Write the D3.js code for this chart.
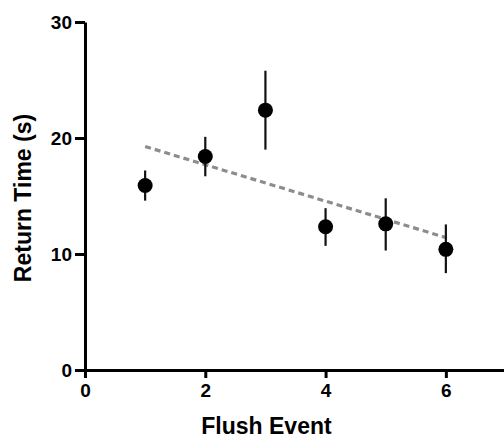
<!DOCTYPE html>
<html>
<head>
<meta charset="utf-8">
<script src="https://cdn.jsdelivr.net/npm/d3@7"></script>
<style>
  html, body { margin: 0; padding: 0; background: #fff; }
  svg { display: block; }
  text { font-family: "Liberation Sans", Arial, sans-serif; font-weight: bold; fill: #000; }
</style>
</head>
<body>
<svg id="chart" width="504" height="440"></svg>
<script>
// Mean return time per flush event, with error bar extents
const flushEvents = [1, 2, 3, 4, 5, 6];
const meanTimes   = [15.9, 18.4, 22.4, 12.35, 12.6, 10.4];
const errUpper    = [17.2, 20.1, 25.8, 13.95, 14.8, 12.55];
const errLower    = [14.6, 16.7, 19.0, 10.7, 10.3, 8.35];

const xTicks = [0, 2, 4, 6];
const yTicks = [0, 10, 20, 30];

const svg = d3.select("#chart");

const x = d3.scaleLinear().domain([0, 7]).range([85, 506]);
const y = d3.scaleLinear().domain([0, 30]).range([370, 22]);

// Axes
const xAxis = svg.append("g")
  .attr("transform", `translate(0,${y(0)})`)
  .call(d3.axisBottom(x).tickValues(xTicks).tickFormat(d3.format("d"))
    .tickSize(8).tickPadding(6).tickSizeOuter(0));
const yAxis = svg.append("g")
  .attr("transform", `translate(${x(0)},0)`)
  .call(d3.axisLeft(y).tickValues(yTicks).tickFormat(d3.format("d"))
    .tickSize(10).tickPadding(3).tickSizeOuter(0));

[xAxis, yAxis].forEach(g => {
  g.select(".domain").attr("stroke", "#000").attr("stroke-width", 3);
  g.selectAll(".tick line").attr("stroke", "#000").attr("stroke-width", 3);
  g.selectAll(".tick text")
    .attr("font-size", 19)
    .attr("font-weight", "bold")
    .attr("font-family", "'Liberation Sans', Arial, sans-serif")
    .attr("fill", "#000");
});
yAxis.selectAll(".tick text").attr("dy", "0.36em");

// Axis titles
svg.append("text")
  .attr("x", (x(0) + 504) / 2 - 28)
  .attr("y", 434)
  .attr("text-anchor", "middle")
  .attr("font-size", 23)
  .text("Flush Event");

svg.append("text")
  .attr("transform", `translate(31,${(y(0) + y(30)) / 2 + 2}) rotate(-90)`)
  .attr("text-anchor", "middle")
  .attr("font-size", 23)
  .text("Return Time (s)");

// Least-squares trend through the means
const n = flushEvents.length;
const mx = d3.mean(flushEvents), my = d3.mean(meanTimes);
const slope = d3.sum(flushEvents.map((v, i) => (v - mx) * (meanTimes[i] - my))) /
              d3.sum(flushEvents.map(v => (v - mx) ** 2));
const intercept = my - slope * mx;
const xFirst = flushEvents[0], xLast = flushEvents[n - 1];

svg.append("line")
  .attr("x1", x(xFirst)).attr("y1", y(intercept + slope * xFirst))
  .attr("x2", x(xLast)).attr("y2", y(intercept + slope * xLast))
  .attr("stroke", "#8c8c8c")
  .attr("stroke-width", 3.2)
  .attr("stroke-dasharray", "6,4");

// Error bars
svg.append("g").selectAll("line")
  .data(flushEvents)
  .join("line")
  .attr("x1", d => x(d)).attr("x2", d => x(d))
  .attr("y1", (d, i) => y(errUpper[i]))
  .attr("y2", (d, i) => y(errLower[i]))
  .attr("stroke", "#111")
  .attr("stroke-width", 2.2);

// Mean markers
svg.append("g").selectAll("circle")
  .data(flushEvents)
  .join("circle")
  .attr("cx", d => x(d))
  .attr("cy", (d, i) => y(meanTimes[i]))
  .attr("r", 7.5)
  .attr("fill", "#000");
</script>
</body>
</html>
